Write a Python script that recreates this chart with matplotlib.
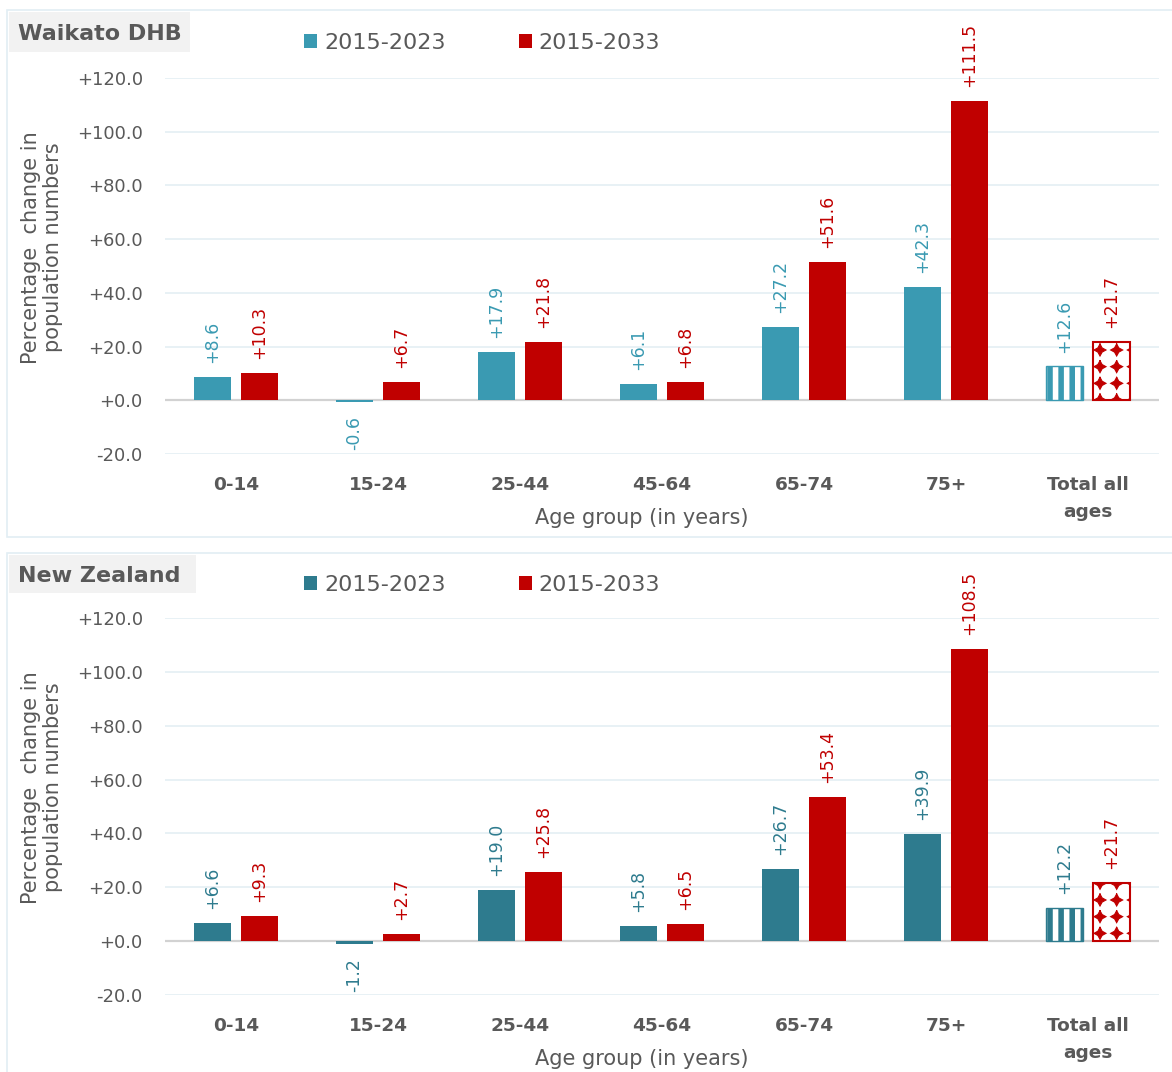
import numpy as np
import matplotlib
matplotlib.use("Agg")
import matplotlib.pyplot as plt
import matplotlib.hatch as mhatch
from matplotlib.path import Path
from matplotlib.patches import Rectangle, Patch
from matplotlib.ticker import FuncFormatter, MultipleLocator

# ---- data -------------------------------------------------------------
categories = ["0-14", "15-24", "25-44", "45-64", "65-74", "75+", "Total all\nages"]
series_labels = ["2015-2023", "2015-2033"]

waikato_2023 = [8.6, -0.6, 17.9, 6.1, 27.2, 42.3, 12.6]
waikato_2033 = [10.3, 6.7, 21.8, 6.8, 51.6, 111.5, 21.7]

nz_2023 = [6.6, -1.2, 19.0, 5.8, 26.7, 39.9, 12.2]
nz_2033 = [9.3, 2.7, 25.8, 6.5, 53.4, 108.5, 21.7]

panel_titles = ["Waikato DHB", "New Zealand"]

# ---- style ------------------------------------------------------------
TEAL_LIGHT = "#3A9AB2"
TEAL_DARK = "#2E7B8E"
RED = "#C00000"
TEXT = "#595959"
GRID = "#E6F0F5"
ZERO = "#D2D2D2"
FRAME = "#E2EEF4"

plt.rcParams["font.family"] = ["DejaVu Sans"]


# Custom hatch fills: finer vertical stripes and a grid of four-point diamonds
class _Stripes(mhatch.VerticalHatch):
    def __init__(self, hatch, density):
        self.num_lines = int(hatch.count('|') * 9)
        self.num_vertices = self.num_lines * 2


class _Diamonds(mhatch.HatchPatternBase):
    size = 0.72

    def __init__(self, hatch, density):
        self.n = int(hatch.count('*') * density)
        star = Path.unit_regular_star(4, innerCircle=0.5)
        self.shape = star.vertices
        self.num_vertices = (self.n + 1) ** 2 * len(self.shape) if self.n else 0

    def set_vertices_and_codes(self, vertices, codes):
        step = 1.0 / self.n
        shape = self.shape * step * self.size / 2
        k = len(shape)
        idx = 0
        for r in range(self.n + 1):
            for c in range(self.n + 1):
                vertices[idx:idx + k] = shape + [c * step, r * step]
                codes[idx:idx + k] = Path.LINETO
                codes[idx] = Path.MOVETO
                idx += k


mhatch._hatch_types = [
    _Stripes if t is mhatch.VerticalHatch else (_Diamonds if t is mhatch.Stars else t)
    for t in mhatch._hatch_types
]

W, H = 1172, 1072
fig = plt.figure(figsize=(W / 100, H / 100), dpi=100)


def px_rect(x0, y0, x1, y1):
    """Figure-fraction rectangle from pixel box (top-left origin)."""
    return (x0 / W, 1 - y1 / H, (x1 - x0) / W, (y1 - y0) / H)


def draw_panel(frame_box, title_box, ax_box, legend_y, s1, s2, teal, title):
    # panel frame
    fx, fy, fw, fh = px_rect(*frame_box)
    fig.patches.append(Rectangle((fx, fy), fw, fh, transform=fig.transFigure,
                                 facecolor="white", edgecolor=FRAME, lw=1.2, zorder=0))
    # title box
    tx, ty, tw, th = px_rect(*title_box)
    fig.patches.append(Rectangle((tx, ty), tw, th, transform=fig.transFigure,
                                 facecolor="#F2F2F2", edgecolor="none", zorder=1))
    fig.text(tx + 9 / W, ty + th / 2, title, fontsize=16.0, fontweight="bold",
             color=TEXT, ha="left", va="center_baseline", zorder=2)

    ax = fig.add_axes(px_rect(*ax_box))
    ax.set_zorder(3)
    ax.patch.set_alpha(0)
    x = np.arange(len(categories))
    off, bw = 0.165, 0.255

    b1 = ax.bar(x - off, s1, bw, color=teal, zorder=2)
    b2 = ax.bar(x + off, s2, bw, color=RED, zorder=2)

    # patterned fill for the all-ages totals
    p1, p2 = b1.patches[-1], b2.patches[-1]
    p1.set_facecolor("white"); p1.set_edgecolor(teal); p1.set_hatch("|"); p1.set_linewidth(1.0)
    p2.set_facecolor("white"); p2.set_edgecolor(RED); p2.set_hatch("*"); p2.set_linewidth(1.5)
    if hasattr(p1, "set_hatch_linewidth"):
        p1.set_hatch_linewidth(4.0)
        p2.set_hatch_linewidth(0.8)

    for bars, vals, col in ((b1, s1, teal), (b2, s2, RED)):
        for rect, v in zip(bars.patches, vals):
            xc = rect.get_x() + rect.get_width() / 2
            ax.annotate(f"{v:+.1f}", (xc, v), xytext=(0, 10 if v >= 0 else -10),
                        textcoords="offset points", rotation=90, ha="center",
                        va="bottom" if v >= 0 else "top", fontsize=12.5, color=col,
                        annotation_clip=False)

    ax.set_xlim(-0.5, len(categories) - 0.5)
    ax.set_ylim(-20, 120)
    ax.yaxis.set_major_locator(MultipleLocator(20))
    ax.yaxis.set_major_formatter(FuncFormatter(lambda v, _: f"{v:+.1f}"))
    ax.grid(axis="y", color=GRID, lw=1.3, zorder=0)
    ax.axhline(0, color=ZERO, lw=1.6, zorder=1)
    ax.set_axisbelow(True)
    for s in ax.spines.values():
        s.set_visible(False)
    ax.tick_params(axis="both", length=0)
    ax.tick_params(axis="y", pad=16, labelsize=13, labelcolor=TEXT)
    ax.set_xticks(x)
    ax.set_xticklabels(categories, fontsize=13.3, fontweight="bold", color=TEXT,
                       linespacing=1.6)
    ax.tick_params(axis="x", pad=16)

    ax.text(0.48, -0.17, "Age group (in years)", transform=ax.transAxes,
            ha="center", va="center", fontsize=15, color=TEXT)
    ax.text(-0.1237, 0.55, "Percentage  change in\npopulation numbers",
            transform=ax.transAxes, rotation=90, ha="center", va="center",
            fontsize=15, color=TEXT, linespacing=1.15)

    handles = [Patch(facecolor=teal), Patch(facecolor=RED)]
    fig.legend(handles, series_labels, loc="center left",
               bbox_to_anchor=(304 / W, 1 - legend_y / H), ncol=2, frameon=False,
               fontsize=16, handlelength=0.6, handleheight=0.6, handletextpad=0.3,
               columnspacing=3.3, borderpad=0, borderaxespad=0,
               labelcolor=TEXT)
    return ax


draw_panel((7, 10, 1185, 537), (9, 12, 190, 52), (165, 78, 1159, 454), 43,
           waikato_2023, waikato_2033, TEAL_LIGHT, panel_titles[0])
draw_panel((7, 553, 1185, 1085), (9, 555, 196, 593), (165, 618, 1159, 995), 585,
           nz_2023, nz_2033, TEAL_DARK, panel_titles[1])

fig.savefig("out.png", dpi=100)
